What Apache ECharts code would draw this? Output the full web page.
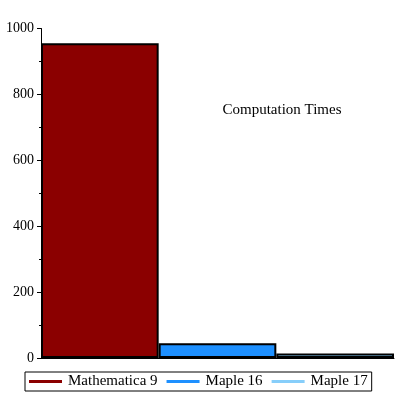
<!DOCTYPE html>
<html>
<head>
<meta charset="utf-8">
<script src="https://cdn.jsdelivr.net/npm/echarts@6/dist/echarts.min.js"></script>
<style>html,body{margin:0;padding:0;background:#fff}#c{width:400px;height:400px}</style>
</head>
<body>
<div id="c"></div>
<script>
const seriesNames = ['Mathematica 9', 'Maple 16', 'Maple 17'];
const seriesValues = [955, 45, 14];
const seriesColors = ['#8B0000', '#1E90FF', '#87CEFA'];
const yTicks = [0, 200, 400, 600, 800, 1000];
const chartTitle = 'Computation Times';

const chart = echarts.init(document.getElementById('c'));
const font = 'Liberation Serif, Times New Roman, serif';
const series = seriesNames.map((name, i) => ({
  name: name,
  type: 'bar',
  stack: 'all',
  barWidth: '100%',
  data: seriesNames.map((_, j) => (j === i ? seriesValues[i] : '-')),
  itemStyle: { color: seriesColors[i], borderColor: '#000', borderWidth: 2 }
}));
chart.setOption({
  animation: false,
  grid: { left: 41, right: 6, top: 28.5, bottom: 42 },
  xAxis: {
    type: 'category',
    data: seriesNames,
    axisLine: { lineStyle: { color: '#000', width: 1 } },
    axisTick: { show: false },
    axisLabel: { show: false }
  },
  yAxis: {
    type: 'value',
    min: yTicks[0],
    max: yTicks[yTicks.length - 1],
    interval: yTicks[1] - yTicks[0],
    axisLine: { show: true, lineStyle: { color: '#000' } },
    axisTick: { show: true, length: 4, lineStyle: { color: '#000' } },
    minorTick: { show: true, splitNumber: 2, length: 2, lineStyle: { color: '#000' } },
    splitLine: { show: false },
    axisLabel: { color: '#000', fontFamily: font, fontSize: 14, margin: 7, formatter: v => String(v) }
  },
  legend: {
    left: 25, top: 372,
    padding: [2, 4, 2, 4],
    borderColor: '#000', borderWidth: 1,
    itemWidth: 33, itemHeight: 3, itemGap: 9,
    icon: 'rect',
    itemStyle: { borderWidth: 0 },
    textStyle: { color: '#000', fontFamily: font, fontSize: 15, padding: [0, 0, 0, 1] },
    data: seriesNames
  },
  graphic: [{
    type: 'text', x: 282, y: 110,
    style: { text: chartTitle, fill: '#000', font: '15px ' + font, align: 'center', verticalAlign: 'middle' }
  }],
  series: series
});
</script>
</body>
</html>
